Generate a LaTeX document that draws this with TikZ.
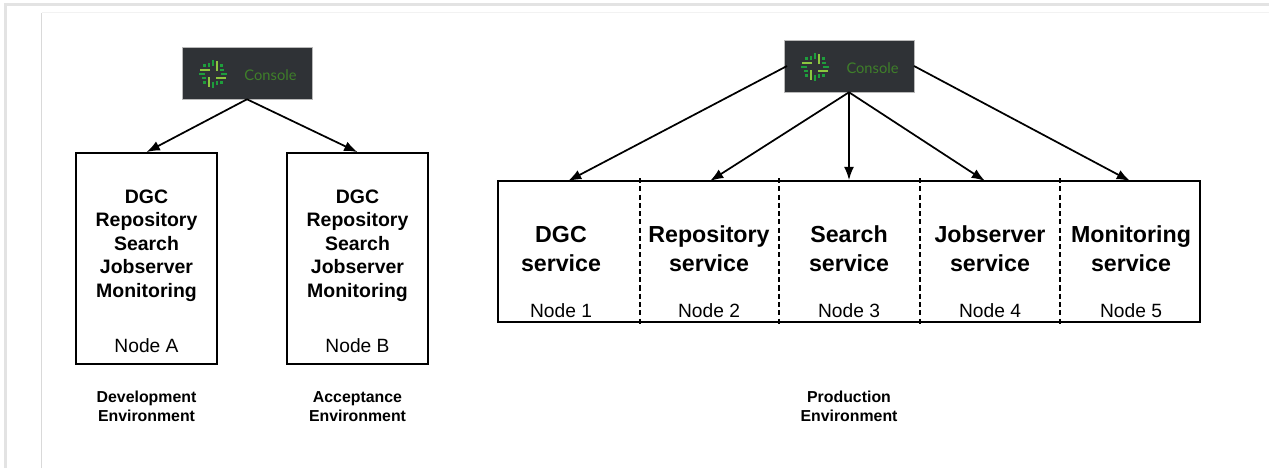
\documentclass[tikz,border=0pt]{standalone}
\usepackage{fontspec}
\usetikzlibrary{arrows.meta}
\setmainfont{Liberation Sans}
\newfontfamily\consolefont{Lato}
\definecolor{darkbox}{HTML}{2F3236}
\definecolor{logolight}{HTML}{8CC63F}
\definecolor{logodark}{HTML}{1E9E3C}
\definecolor{consolegreen}{HTML}{3F7F2A}
\tikzset{
	consolebox/.style={fill=darkbox,draw=gray!55,line width=0.4pt,minimum width=97.5pt,minimum height=39pt,inner sep=0pt},
	hostbox/.style={draw=black,line width=1.3pt,inner sep=0pt},
	bigtext/.style={font=\fontsize{14.6}{17.6}\selectfont\bfseries,align=center},
	hugetext/.style={font=\fontsize{17.4}{21.4}\selectfont\bfseries,align=center},
	nodetext/.style={font=\fontsize{14.4}{17}\selectfont},
	envtext/.style={font=\fontsize{11.9}{14.2}\selectfont\bfseries,align=center},
	feed/.style={-{Latex[length=10pt,width=7.5pt]},line width=1.3pt},
	divider/.style={line width=1.1pt,dash pattern=on 3.8pt off 2.4pt},
	pics/logo/.style={code={
		\foreach \a in {0,90,180,270}{
			\begin{scope}[rotate=\a]
			\draw[logolight,line width=2pt] (4,-3) -- (4,-13);
			\draw[logodark,line width=1.7pt] (0,-8) -- (0,-14);
			\draw[logodark,line width=1.7pt] (-4,-7) -- (-4,-11);
			\draw[logodark,line width=1.7pt] (8.5,-7) -- (8.5,-10);
			\end{scope}
		}
	}},
}
\begin{document}
\begin{tikzpicture}[x=0.75pt,y=-0.75pt]
	\useasboundingbox (0,0) rectangle (1269,468);
	% page edges
	\draw[gray!22,line width=2.4pt] (5.5,468) -- (5.5,4.5) -- (1269,4.5);
	\draw[gray!30,line width=1pt] (41.5,468) -- (41.5,12.5);
	\draw[gray!10,line width=1pt] (41.5,12.5) -- (1269,12.5);

	% development and acceptance
	\node[consolebox] (C1) at (247,73) {};
	\pic at (213,74) {logo};
	\node[text=consolegreen,font=\consolefont\fontsize{11}{13}\selectfont] (T1) at (270.5,75) {Console};
	\node[hostbox,minimum width=105.75pt,minimum height=158.25pt] (A) at (146.5,258.5) {};
	\node[hostbox,minimum width=105.75pt,minimum height=158.25pt] (B) at (357.5,258.5) {};
	\node[bigtext] (A1) at (146.5,245.5) {DGC\\Repository\\Search\\Jobserver\\Monitoring};
	\node[bigtext] (B1) at (357.5,245.5) {DGC\\Repository\\Search\\Jobserver\\Monitoring};
	\node[nodetext] (A2) at (146.5,346) {Node A};
	\node[nodetext] (B2) at (357.5,346) {Node B};
	\node[envtext] (A3) at (146.5,406) {Development\\Environment};
	\node[envtext] (B3) at (357.5,407) {Acceptance\\Environment};
	\draw[feed] (C1.south) -- (A.north);
	\draw[feed] (C1.south) -- (B.north);

	% production
	\node[consolebox] (C2) at (849,66) {};
	\pic at (815,67) {logo};
	\node[text=consolegreen,font=\consolefont\fontsize{11}{13}\selectfont] (T2) at (872.5,68) {Console};
	\node[hostbox,minimum width=526.5pt,minimum height=105.75pt] (P) at (849,251.5) {};
	\node[hugetext] (S1) at (561,249) {DGC\\service};
	\node[hugetext] (S2) at (709,248.5) {Repository\\service};
	\node[hugetext] (S3) at (849,248.5) {Search\\service};
	\node[hugetext] (S4) at (990,248.5) {Jobserver\\service};
	\node[hugetext] (S5) at (1131,248.5) {Monitoring\\service};
	\node[nodetext] (N1) at (561,311) {Node 1};
	\node[nodetext] (N2) at (709,311) {Node 2};
	\node[nodetext] (N3) at (849,311) {Node 3};
	\node[nodetext] (N4) at (990,311) {Node 4};
	\node[nodetext] (N5) at (1131,311) {Node 5};
	\node[envtext] (P3) at (849,406) {Production\\Environment};
	\coordinate (P1) at (568,181);
	\coordinate (P2) at (710,181);
	\coordinate (P4) at (985,181);
	\coordinate (P5) at (1130,181);
	\coordinate (L) at (787,66);
	\coordinate (R) at (914,66);
	\draw[feed] (L) -- (P1);
	\draw[feed] (C2.south) -- (P2);
	\draw[feed] (C2.south) -- (P.north);
	\draw[feed] (C2.south) -- (P4);
	\draw[feed] (R) -- (P5);
	\draw[divider] (640,178) -- (640,326);
	\draw[divider] (779,178) -- (779,326);
	\draw[divider] (920,178) -- (920,326);
	\draw[divider] (1060,178) -- (1060,326);
\end{tikzpicture}
\end{document}
